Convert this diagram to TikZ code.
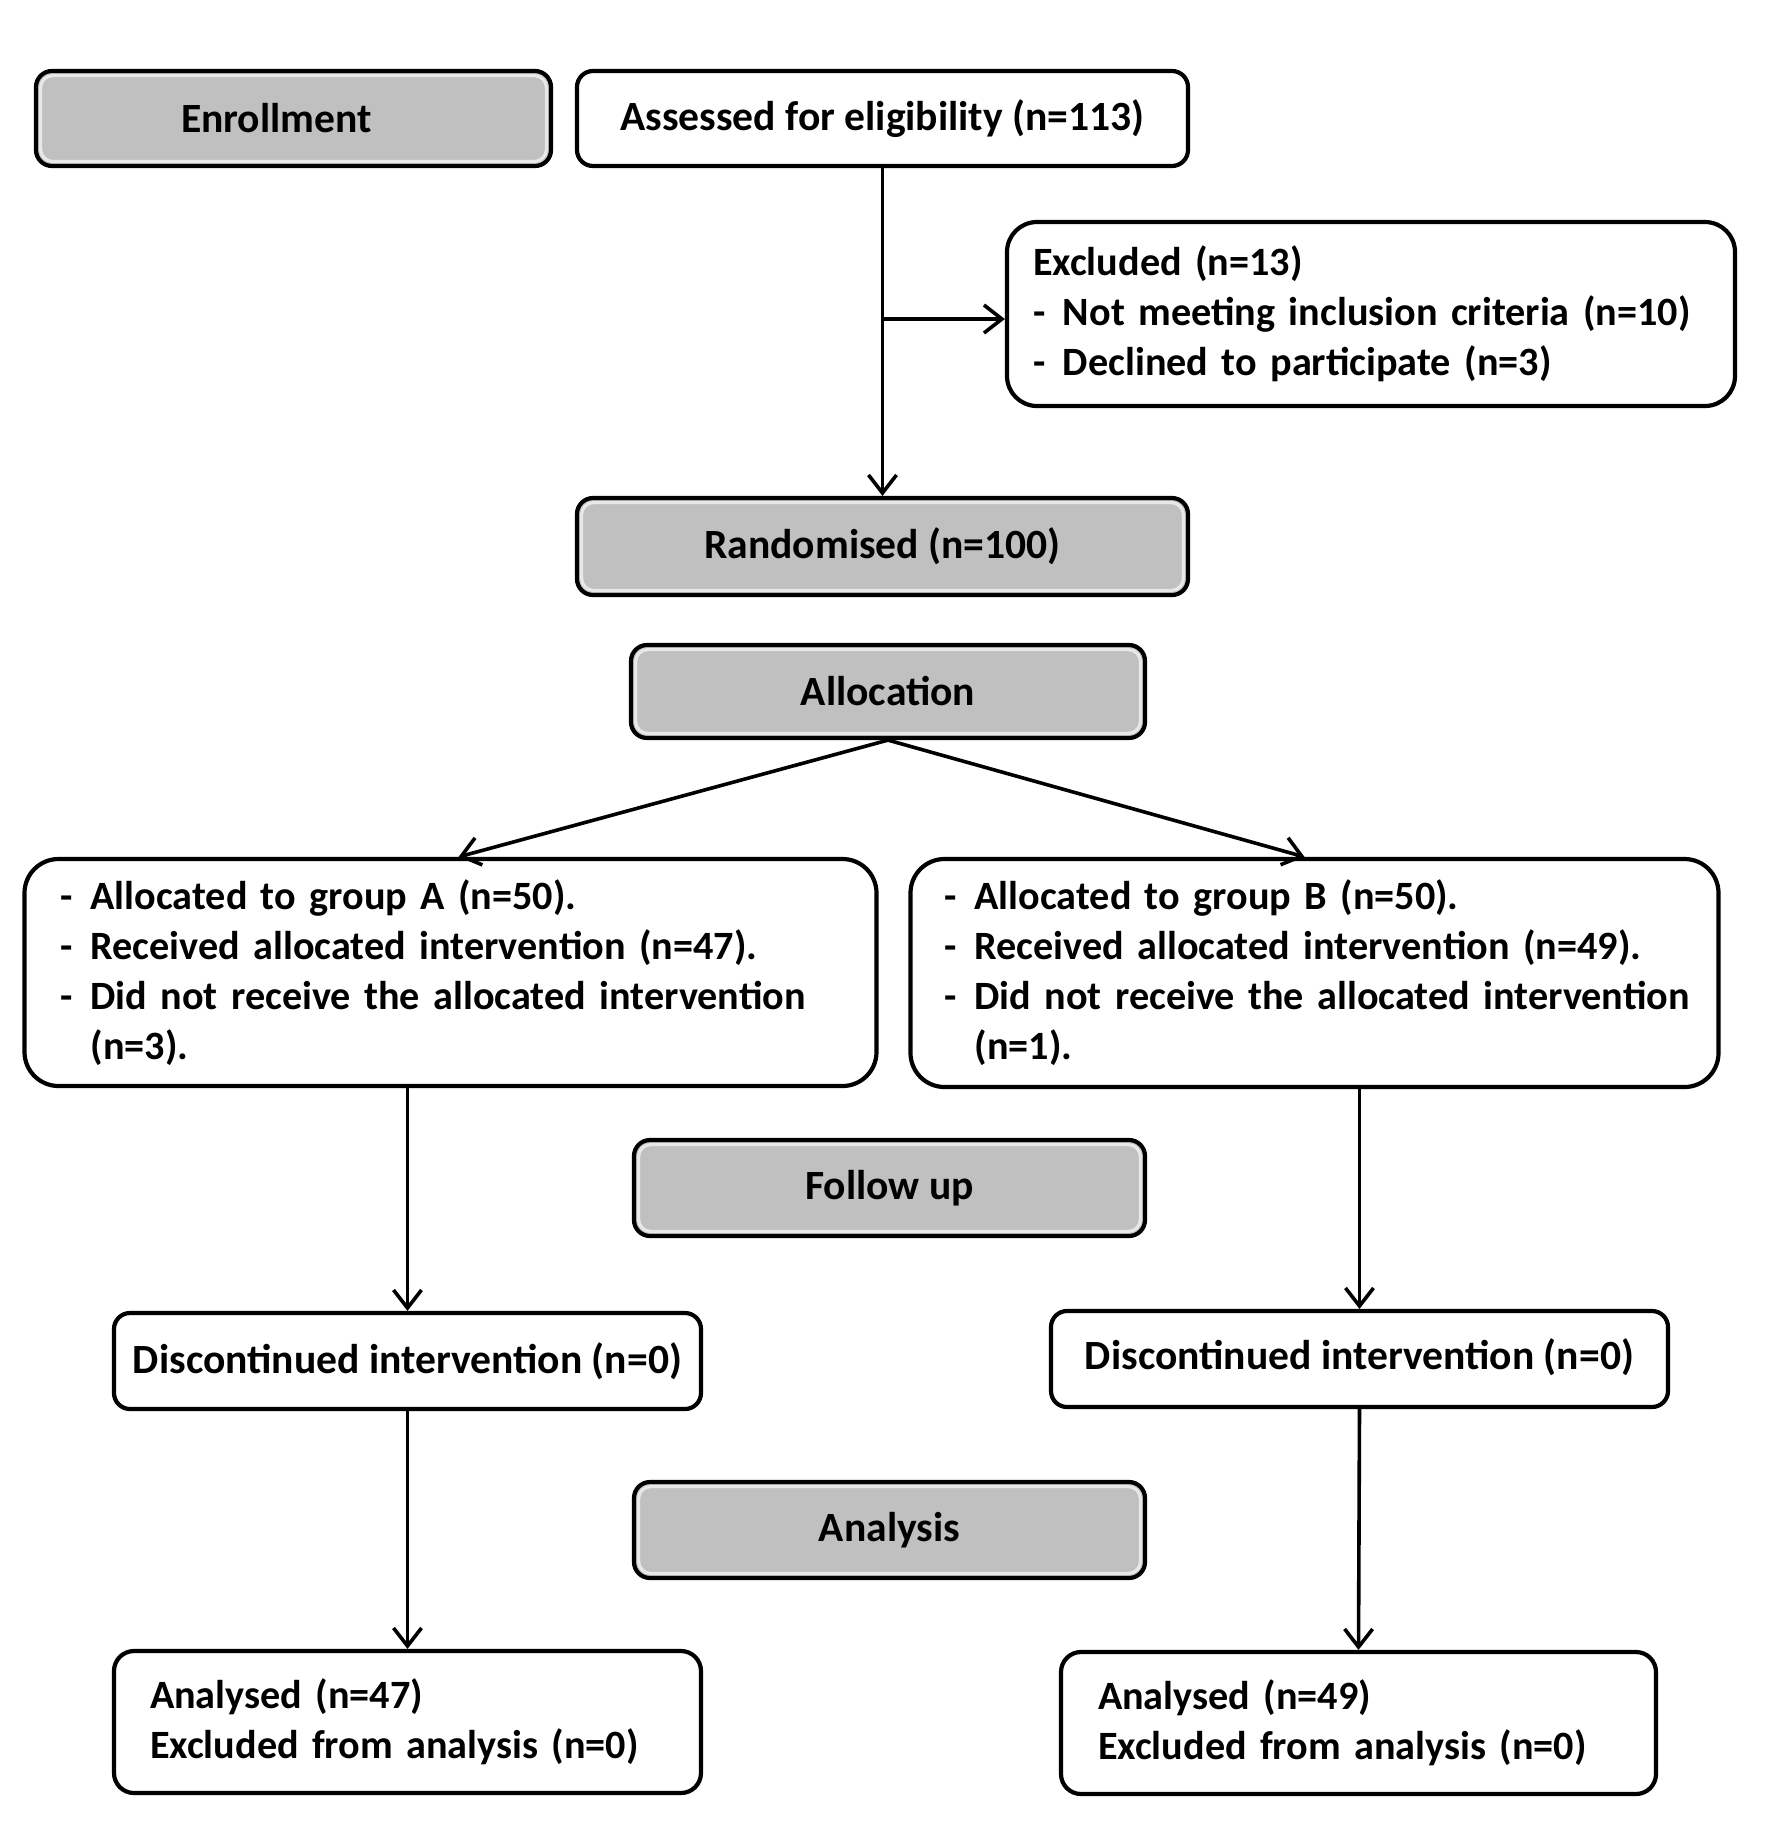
\documentclass[tikz,border=0pt]{standalone}
\usepackage{fontspec}
\setmainfont{Carlito}
\usetikzlibrary{arrows.meta}
\definecolor{boxgray}{RGB}{192,192,192}
\definecolor{hilite}{RGB}{232,232,232}
\newcommand{\fs}{\fontsize{20.8pt}{25pt}\selectfont\bfseries}
\newcommand{\fl}{\fontsize{20.1pt}{25pt}\selectfont\bfseries}
\newcommand{\itm}[1]{\mbox{\makebox[15pt][l]{-}#1}}
\begin{document}
\begin{tikzpicture}[x=0.5pt,y=-0.5pt,
  box/.style={draw=black, line width=2.1pt, rounded corners=8pt, fill=white, inner sep=0pt, font=\fs, align=center},
  graybox/.style={box, fill=boxgray,
    path picture={\draw[hilite, line width=1.6pt, rounded corners=6pt]
      ([shift={(2.3pt,2.3pt)}]path picture bounding box.south west) rectangle
      ([shift={(-2.3pt,-2.3pt)}]path picture bounding box.north east);}},
  listbox/.style={box, align=left, font=\fl},
  arr/.style={draw=black, line width=1.8pt, -{Straight Barb[length=9pt,width=14pt,line width=1.8pt]}}
]
\useasboundingbox[fill=white] (0,0) rectangle (1772,1843);

\node[graybox, minimum width=257.5pt, minimum height=47.5pt] (enroll) at (293.5,118.5) {\hspace*{-17pt}Enrollment};
\node[box, minimum width=305.5pt, minimum height=47.5pt] (assess) at (882.5,118.5) {Assessed for eligibility (n=113)};
\node[listbox, rounded corners=15pt, minimum height=92pt, text width=338pt, inner xsep=13pt] (excl) at (1371,314)
  {\mbox{Excluded (n=13)}\\ \itm{Not meeting inclusion criteria (n=10)}\\ \itm{Declined to participate (n=3)}};
\node[graybox, minimum width=305.5pt, minimum height=48.5pt] (rand) at (882.5,546.5) {Randomised (n=100)};
\node[graybox, minimum width=257pt, minimum height=46.5pt] (alloc) at (888,691.5) {Allocation};

\node[listbox, rounded corners=17pt, minimum height=113.5pt, text width=390pt, inner xsep=18pt] (grpA) at (450.5,972.5)
  {\itm{Allocated to group A (n=50).}\\ \itm{Received allocated intervention (n=47).}\\ \itm{Did not receive the allocated intervention}\\ \mbox{\hspace*{15pt}(n=3).}};
\node[listbox, rounded corners=17pt, minimum height=114pt, text width=370pt, inner xsep=17pt] (grpB) at (1314.5,973)
  {\itm{Allocated to group B (n=50).}\\ \itm{Received allocated intervention (n=49).}\\ \itm{Did not receive the allocated intervention}\\ \mbox{\hspace*{15pt}(n=1).}};

\node[graybox, minimum width=255.5pt, minimum height=48pt] (follow) at (889.5,1188) {Follow up};
\node[box, minimum width=293.5pt, minimum height=48pt] (discA) at (407.5,1361) {Discontinued intervention (n=0)};
\node[box, minimum width=308.5pt, minimum height=48pt] (discB) at (1359.5,1359) {\raisebox{5pt}{Discontinued intervention (n=0)}};

\node[graybox, minimum width=255.5pt, minimum height=48pt] (analysis) at (889.5,1530) {Analysis};
\node[listbox, rounded corners=10pt, minimum height=71pt, text width=257.5pt, inner xsep=18pt] (anA) at (407.5,1722)
  {\mbox{Analysed (n=47)}\\ \mbox{Excluded from analysis (n=0)}};
\node[listbox, rounded corners=10pt, minimum height=71pt, text width=260.5pt, inner xsep=18.5pt] (anB) at (1358.5,1723)
  {\mbox{Analysed (n=49)}\\ \mbox{Excluded from analysis (n=0)}};

\draw[arr] (assess.south) -- (rand.north);
\draw[arr] ([yshift=-2.5pt]assess.south |- excl.west) -- ([yshift=-2.5pt]excl.west);
\draw[arr] (alloc.south) -- ([xshift=4pt]grpA.north);
\draw[arr] (alloc.south) -- ([xshift=-5pt]grpB.north);
\draw[arr] (discA.north |- grpA.south) -- (discA.north);
\draw[arr] (discA.south) -- (anA.north);
\draw[arr] (discB.north |- grpB.south) -- (discB.north);
\draw[arr] (discB.south) -- (anB.north);
\end{tikzpicture}
\end{document}
